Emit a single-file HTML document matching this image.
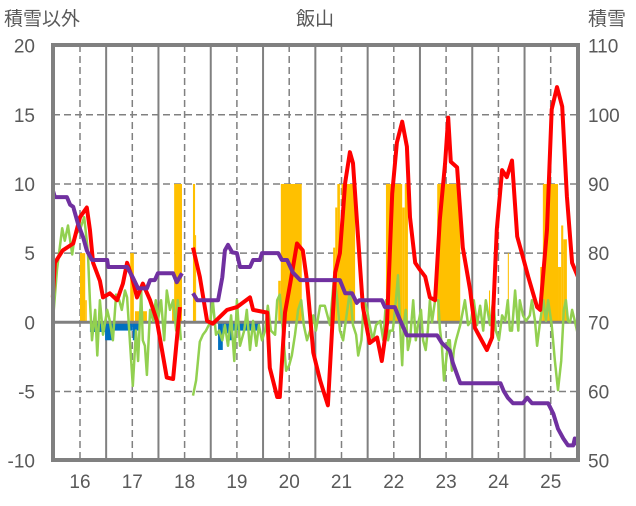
<!DOCTYPE html>
<html><head><meta charset="utf-8"><style>
html,body{margin:0;padding:0;background:#fff;}
svg text{font-family:"Liberation Sans","Noto Sans CJK JP",sans-serif;fill:#595959;}
</style></head><body>
<svg id="chart" width="636" height="501" viewBox="0 0 636 501" xmlns="http://www.w3.org/2000/svg">
<text x="4" y="25" font-size="19">積雪以外</text>
<text x="315" y="25" font-size="19" text-anchor="middle">飯山</text>
<text x="588" y="25" font-size="19">積雪</text>
<g id="grid"></g>
<g id="bars"></g>
<g id="lines"></g>
<rect x="53" y="45" width="525" height="415" fill="none" stroke="#808080" stroke-width="4"/>
<g id="ticks"></g>
</svg>
<script>
const xTickLabels=["16","17","18","19","20","21","22","23","24","25"];
const leftTicks=[-10,-5,0,5,10,15,20];
const rightTicks=[50,60,70,80,90,100,110];

const redYear=[15.48,15.52,15.67,15.87,16.0,16.13,16.19,16.25,16.38,16.44,16.57,16.71,16.82,16.9,16.99,17.09,17.2,17.34,17.47,17.66,17.78,17.91,null,18.16,18.29,18.43,18.54,18.81,19.0,19.25,19.31,19.58,19.63,19.77,19.82,19.92,20.02,20.15,20.26,20.34,20.46,20.59,20.74,20.88,20.97,21.07,21.16,21.22,21.35,21.41,21.54,21.68,21.77,21.87,21.97,22.06,22.16,22.25,22.31,22.41,22.5,22.6,22.69,22.79,22.88,22.98,23.04,23.09,23.21,23.32,23.46,23.55,23.65,23.78,23.88,23.97,24.07,24.16,24.26,24.36,24.47,24.57,24.74,24.8,24.93,25.02,25.12,25.22,25.31,25.41,25.52];
const redVal=[1.8,4.3,5.2,5.7,7.6,8.3,6.7,4.3,3.0,1.8,2.1,1.6,2.8,4.3,3.3,1.8,2.8,1.6,0.1,-4.0,-4.1,1.1,null,5.4,3.3,0.1,-0.1,0.9,1.1,1.8,0.9,0.7,-3.3,-5.4,-5.4,0.7,2.8,5.7,5.2,3.0,-2.2,-4.2,-6.0,3.6,5.0,10.1,12.3,11.5,4.3,1.1,-1.5,-1.1,-2.8,-0.1,9.3,13.0,14.5,12.7,7.6,4.3,3.8,3.3,1.8,1.6,7.4,11.5,14.8,11.6,11.2,5.4,2.3,-0.4,-1.1,-2.0,-1.1,6.7,11.0,10.5,11.7,6.2,4.7,3.3,1.1,0.9,6.7,15.4,17.0,15.6,9.1,4.3,3.3];

const snowYear=[15.48,15.52,15.75,15.81,15.87,15.96,16.06,16.13,16.23,16.52,16.54,16.9,17.01,17.11,17.28,17.34,17.43,17.49,17.78,17.85,17.95,null,18.16,18.24,18.64,18.72,18.77,18.83,18.91,19.0,19.06,19.25,19.31,19.44,19.48,19.79,19.86,19.96,20.07,20.21,20.97,21.07,21.2,21.29,21.34,21.77,21.83,22.02,22.12,22.25,22.83,22.92,23.07,23.13,23.27,24.04,24.1,24.18,24.28,24.47,24.55,24.64,24.95,25.05,25.14,25.24,25.33,25.43,25.46,25.52];
const snowVal=[89.1,88.1,88.1,87,86.7,84.3,82.3,80.4,79,79,78,78,76.5,74.9,74.9,76.1,76.1,77.1,77.1,75.8,77.1,null,74.2,73.2,73.2,76.5,80.4,81.2,80.1,80,78,78,79,79,80,80,79,79,77.2,76.1,76.1,74.2,74.2,72.8,73.2,73.2,72.2,72.2,70.3,68.1,68.1,67,65.9,64.1,61.2,61.2,60.1,59.1,58.3,58.3,59.1,58.3,58.3,56.8,54.6,53.2,52.2,52.2,53.2,52.2];

const greenYear=[15.48,15.56,15.66,15.71,15.77,15.85,15.9,16.0,16.08,16.15,16.19,16.23,16.29,16.33,16.38,16.44,16.52,16.57,16.63,16.69,16.75,16.8,16.86,16.9,16.96,17.01,17.07,17.11,17.17,17.2,17.24,17.28,17.34,17.4,17.45,17.49,17.55,17.61,17.66,17.72,17.78,17.84,17.87,17.93,null,18.16,18.22,18.29,18.35,18.41,18.49,18.54,18.6,18.66,18.72,18.77,18.83,18.89,18.95,19.0,19.06,19.14,19.19,19.25,19.31,19.37,19.42,19.48,19.54,19.59,19.65,19.73,19.77,19.82,19.88,19.94,20.0,20.05,20.11,20.17,20.23,20.28,20.34,20.4,20.46,20.51,20.59,20.68,20.78,20.86,20.92,20.97,21.03,21.11,21.16,21.22,21.28,21.32,21.38,21.43,21.49,21.54,21.6,21.66,21.74,21.8,21.85,21.89,21.93,21.98,22.04,22.08,22.12,22.16,22.19,22.23,22.27,22.31,22.37,22.42,22.46,22.52,22.56,22.61,22.65,22.69,22.73,22.79,22.85,22.88,22.92,22.96,23.0,23.04,23.07,23.11,23.15,23.19,23.27,23.36,23.42,23.48,23.53,23.59,23.65,23.71,23.76,23.84,23.9,23.95,24.01,24.07,24.13,24.18,24.22,24.26,24.32,24.38,24.41,24.47,24.53,24.6,24.64,24.7,24.74,24.8,24.86,24.91,24.95,25.02,25.08,25.14,25.2,25.25,25.29,25.33,25.37,25.41,25.46,25.52];
const greenVal=[0,3.8,6.8,5.9,7.0,4.9,6.3,6.7,7.6,5.2,1.6,-1.3,0.9,-2.4,1.6,-0.9,0.9,0.1,-1.3,2.0,1.6,0.9,2.3,1.8,-1.7,-4.6,-0.6,-2.8,2.3,-1.3,-1.7,-3.8,0.9,0.1,1.6,0.1,1.6,-1.3,2.3,0.9,1.6,-0.6,1.6,-1.3,null,-5.3,-4.2,-1.4,-0.9,-0.6,0,1.6,-0.9,-0.6,-1.3,-0.2,-1.7,0.5,-2.8,1.6,-1.7,-0.6,0.9,-2.0,0.1,-1.7,-0.2,-1.3,-0.6,1.2,-0.6,-0.9,1.6,2.0,-0.6,-3.5,-3.1,-2.4,-0.9,0.9,1.6,-0.2,-1.3,-0.6,0.5,-0.6,1.2,1.2,-0.2,3.4,1.6,-0.6,-1.3,0.9,2.3,-0.2,-0.9,-2.4,-1.3,1.6,0.9,-0.2,-1.3,-0.2,0.1,-1.3,1.6,-1.3,-0.6,-0.6,1.6,3.4,-0.2,-3.1,-0.2,0.9,-2.0,-1.3,1.6,-1.3,-0.2,0.9,-1.3,-2.0,-0.6,1.6,0,1.6,1.6,-0.4,-1.7,-4.2,-2.8,-1.3,-1.3,-3.5,-2.0,-1.3,-0.2,1.6,-0.2,0.1,1.6,-0.2,1.2,-0.6,1.6,-0.2,1.6,-0.6,-1.3,0.5,0.1,1.6,-0.6,-0.6,2.3,-0.6,1.6,0.5,0.1,0.5,1.6,0.1,-1.7,0.1,1.6,0.1,1.6,-0.2,-2.8,-4.9,-2.8,0.9,1.6,0.1,0,0.9,0.1,-0.9];

const orangeFrom=[16.0,16.1,16.96,17.05,17.76,17.8,18.16,18.2,19.79,19.84,20.84,20.88,20.92,20.97,21.0,21.85,22.16,22.21,22.83,23.82,24.18,24.8,24.85,25.14,25.2,25.24];
const orangeTo=[16.1,16.13,17.03,17.28,17.8,17.95,18.2,18.22,19.84,20.24,20.88,20.92,20.97,21.0,21.26,22.16,22.21,22.27,23.27,23.84,24.2,24.85,25.14,25.2,25.24,25.31];
const orangeVal=[5,1.6,5,0.8,1.6,10,10,6.3,3,10,5.4,8.3,10,6.3,10,10,8.3,10,10,2.3,5,4,10,4,7,6];

const blueFrom=[16.19,16.48,16.61,17.01,17.09,18.64,18.73,18.83,18.93];
const blueTo=[16.48,16.61,17.01,17.09,17.15,18.73,18.83,18.93,19.44];
const blueVal=[-0.7,-1.3,-0.6,-1.3,-0.6,-2.0,-0.8,-1.3,-0.6];

const NS="http://www.w3.org/2000/svg";
const X0=80, XPER=52.3;
function xs(yr){return X0+(yr-16)*XPER;}
function yL(v){return 322.3-v*13.833;}
function yR(v){return 322.3-(v-70)*6.9167;}
function mk(tag,attrs,parent){const e=document.createElementNS(NS,tag);for(const k in attrs)e.setAttribute(k,attrs[k]);parent.appendChild(e);return e;}

const grid=document.getElementById('grid');
leftTicks.forEach(function(t){
  if(t===0) return;
  const l=mk('line',{x1:53,x2:578,y1:yL(t),y2:yL(t),stroke:'#808080','stroke-width':1.5,'stroke-dasharray':'7,4'},grid);
  
  
});
xTickLabels.forEach(function(lab,i){
  const yr=16+i;
  const d=mk('line',{x1:xs(yr),x2:xs(yr),y1:45,y2:460,stroke:'#808080','stroke-width':1.5,'stroke-dasharray':'7,4'},grid);
  
  
  if(i<9){
    const s=mk('line',{x1:xs(yr+0.5),x2:xs(yr+0.5),y1:45,y2:460,stroke:'#808080','stroke-width':2},grid);
    
    
  }
});

const bars=document.getElementById('bars');
orangeVal.forEach(function(v,i){
  const x1=xs(orangeFrom[i]),x2=xs(orangeTo[i]);
  const r=mk('rect',{x:x1,y:yL(v),width:Math.max(1,x2-x1),height:yL(0)-yL(v),fill:'#FFC000'},bars);
  
  
});
blueVal.forEach(function(v,i){
  const x1=xs(blueFrom[i]),x2=xs(blueTo[i]);
  const r=mk('rect',{x:x1,y:yL(0),width:Math.max(1,x2-x1),height:yL(v)-yL(0),fill:'#0070C0'},bars);
  
  
});
const zl=mk('line',{x1:53,x2:578,y1:yL(0),y2:yL(0),stroke:'#808080','stroke-width':3},bars);



function pathFrom(xa,va,yf){
  let d='',pen=false;
  for(let i=0;i<xa.length;i++){
    if(xa[i]===null||va[i]===null){pen=false;continue;}
    d+=(pen?'L':'M')+xs(xa[i]).toFixed(1)+','+yf(va[i]).toFixed(1);
    pen=true;
  }
  return d;
}
const lines=document.getElementById('lines');
const g=mk('path',{d:pathFrom(greenYear,greenVal,yL),fill:'none',stroke:'#92D050','stroke-width':2.5,'stroke-linejoin':'round'},lines);


const r=mk('path',{d:pathFrom(redYear,redVal,yL),fill:'none',stroke:'#FF0000','stroke-width':4,'stroke-linejoin':'round'},lines);


const p=mk('path',{d:pathFrom(snowYear,snowVal,yR),fill:'none',stroke:'#7030A0','stroke-width':4,'stroke-linejoin':'round'},lines);



const ticks=document.getElementById('ticks');
leftTicks.forEach(function(t){
  const e=mk('text',{x:35,y:yL(t)+7,'font-size':19,'text-anchor':'end'},ticks);
  e.textContent=String(t);
  
  
});
rightTicks.forEach(function(t){
  const e=mk('text',{x:588,y:yR(t)+7,'font-size':19},ticks);
  e.textContent=String(t);
  
  
});
xTickLabels.forEach(function(lab,i){
  const e=mk('text',{x:xs(16+i),y:488,'font-size':19,'text-anchor':'middle'},ticks);
  e.textContent=lab;
  
  
});
</script>
</body></html>
